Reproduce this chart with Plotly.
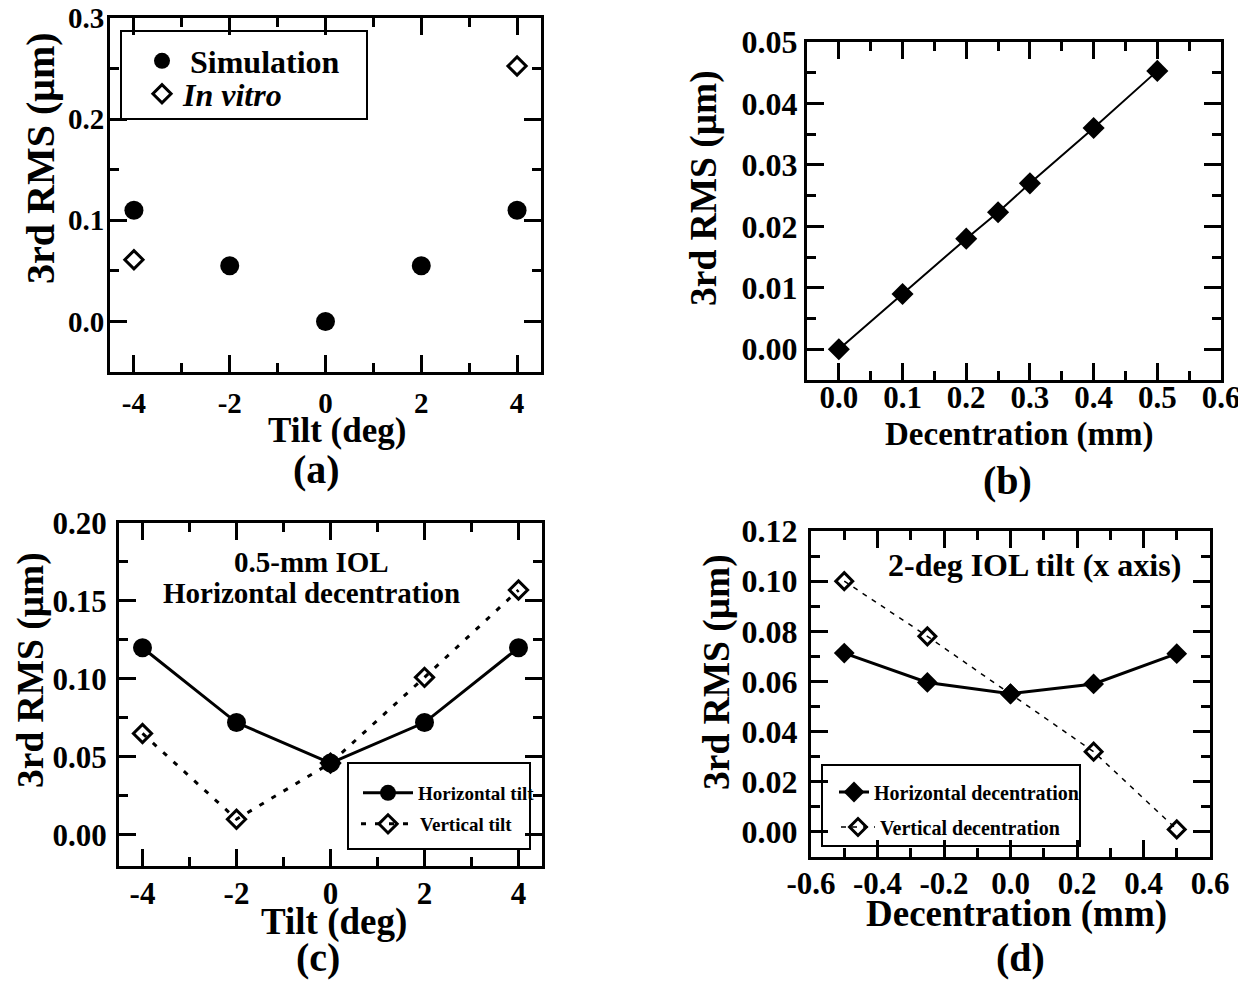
import plotly.graph_objects as go

# ---------------- data ----------------
# (a) 3rd-order RMS vs tilt
a_sim_tilt = [-4, -2, 0, 2, 4]
a_sim_rms = [0.110, 0.055, 0.000, 0.055, 0.110]
a_vitro_tilt = [-4, 4]
a_vitro_rms = [0.061, 0.2525]

# (b) 3rd-order RMS vs decentration
b_dec = [0.0, 0.1, 0.2, 0.25, 0.3, 0.4, 0.5]
b_rms = [0.0, 0.009, 0.018, 0.0223, 0.027, 0.036, 0.0453]

# (c) 0.5-mm IOL horizontal decentration, tilt sweep
c_tilt = [-4, -2, 0, 2, 4]
c_horiz = [0.120, 0.072, 0.046, 0.072, 0.120]
c_vert = [0.065, 0.010, 0.046, 0.101, 0.157]

# (d) 2-deg IOL tilt (x axis), decentration sweep
d_dec = [-0.5, -0.25, 0.0, 0.25, 0.5]
d_horiz = [0.0713, 0.0596, 0.0551, 0.0590, 0.0711]
d_vert = [0.100, 0.078, 0.055, 0.032, 0.001]

# tick values / labels
a_xticks = [-4, -2, 0, 2, 4]
a_xlabels = ["-4", "-2", "0", "2", "4"]
a_yticks = [0.0, 0.1, 0.2, 0.3]
a_ylabels = ["0.0", "0.1", "0.2", "0.3"]
b_xticks = [0.0, 0.1, 0.2, 0.3, 0.4, 0.5, 0.6]
b_xlabels = ["0.0", "0.1", "0.2", "0.3", "0.4", "0.5", "0.6"]
b_yticks = [0.0, 0.01, 0.02, 0.03, 0.04, 0.05]
b_ylabels = ["0.00", "0.01", "0.02", "0.03", "0.04", "0.05"]
c_xticks = [-4, -2, 0, 2, 4]
c_xlabels = ["-4", "-2", "0", "2", "4"]
c_yticks = [0.0, 0.05, 0.10, 0.15, 0.20]
c_ylabels = ["0.00", "0.05", "0.10", "0.15", "0.20"]
d_xticks = [-0.6, -0.4, -0.2, 0.0, 0.2, 0.4, 0.6]
d_xlabels = ["-0.6", "-0.4", "-0.2", "0.0", "0.2", "0.4", "0.6"]
d_yticks = [0.0, 0.02, 0.04, 0.06, 0.08, 0.10, 0.12]
d_ylabels = ["0.00", "0.02", "0.04", "0.06", "0.08", "0.10", "0.12"]

# ---------------- layout helpers ----------------
# page is 1246x981; the html body has an 8px margin, so the figure starts at (8, 8)
OFF = 8
FW, FH = 1246 - OFF, 981 - OFF
SERIF = "Liberation Serif"


def fx(p):
    return (p - OFF) / FW


def fy(p):
    return 1 - (p - OFF) / FH


def bold(size):
    return dict(family=SERIF, size=size, color="black", weight="bold")


def axis(dom, rng, tv, tt, minor_dtick, standoff, fsize, anchor):
    return dict(
        domain=dom, range=rng, anchor=anchor, automargin=False,
        tickmode="array", tickvals=tv, ticktext=tt,
        showline=True, linecolor="black", linewidth=3, mirror="ticks",
        ticks="inside", ticklen=17, tickwidth=3, tickcolor="black",
        minor=dict(dtick=minor_dtick, tick0=0, ticks="inside", ticklen=9,
                   tickwidth=3, tickcolor="black", showgrid=False),
        showgrid=False, zeroline=False, ticklabeloverflow="allow",
        tickfont=bold(fsize), ticklabelstandoff=standoff,
    )


# panel boxes in page pixels (left, right, top, bottom)
boxes = {
    "a": (110, 541, 18, 372),
    "b": (807, 1221, 42, 380),
    "c": (119, 542, 523, 866),
    "d": (811, 1210, 531, 857),
}


def xdom(k):
    l, r, t, b = boxes[k]
    return [fx(l), fx(r)]


def ydom(k):
    l, r, t, b = boxes[k]
    return [fy(b), fy(t)]


fig = go.Figure()

# (a)
fig.add_trace(go.Scatter(x=a_sim_tilt, y=a_sim_rms, mode="markers", name="Simulation",
                         marker=dict(symbol="circle", size=19, color="black"),
                         xaxis="x", yaxis="y", legend="legend"))
fig.add_trace(go.Scatter(x=a_vitro_tilt, y=a_vitro_rms, mode="markers", name="<i>In vitro</i>",
                         marker=dict(symbol="diamond-open", size=14, color="black",
                                     line=dict(width=3, color="black")),
                         xaxis="x", yaxis="y", legend="legend2"))
# (b)
fig.add_trace(go.Scatter(x=b_dec, y=b_rms, mode="lines+markers", showlegend=False,
                         line=dict(color="black", width=2),
                         marker=dict(symbol="diamond", size=17, color="black"),
                         xaxis="x2", yaxis="y2"))
# (c)
fig.add_trace(go.Scatter(x=c_tilt, y=c_horiz, mode="lines+markers", name="Horizontal tilt",
                         line=dict(color="black", width=3),
                         marker=dict(symbol="circle", size=19, color="black"),
                         xaxis="x3", yaxis="y3", legend="legend3"))
fig.add_trace(go.Scatter(x=c_tilt, y=c_vert, mode="lines+markers", name="Vertical tilt",
                         line=dict(color="black", width=3, dash="5px,9px"),
                         marker=dict(symbol="diamond-open", size=14, color="black",
                                     line=dict(width=3, color="black")),
                         xaxis="x3", yaxis="y3", legend="legend4"))
# (d)
fig.add_trace(go.Scatter(x=d_dec, y=d_horiz, mode="lines+markers", name="Horizontal decentration",
                         line=dict(color="black", width=3),
                         marker=dict(symbol="diamond", size=16, color="black"),
                         xaxis="x4", yaxis="y4", legend="legend5"))
fig.add_trace(go.Scatter(x=d_dec, y=d_vert, mode="lines+markers", name="Vertical decentration",
                         line=dict(color="black", width=1.5, dash="5px,6px"),
                         marker=dict(symbol="diamond-open", size=13, color="black",
                                     line=dict(width=3, color="black")),
                         xaxis="x4", yaxis="y4", legend="legend6"))


def leg(x, y, size, itemwidth):
    # x: left edge of legend (page px), y: entry centre (page px)
    return dict(x=fx(x), y=fy(y), xanchor="left", yanchor="middle",
                bgcolor="rgba(0,0,0,0)", font=bold(size), borderwidth=0,
                itemwidth=itemwidth)


layout = dict(
    width=FW, height=FH, margin=dict(l=0, r=0, t=0, b=0, autoexpand=False),
    paper_bgcolor="white", plot_bgcolor="white",
    xaxis=axis(xdom("a"), [-4.5, 4.5], a_xticks, a_xlabels, 1, 3, 29, "y"),
    yaxis=axis(ydom("a"), [-0.05, 0.3], a_yticks, a_ylabels, 0.05, -3, 29, "x"),
    xaxis2=axis(xdom("b"), [-0.05, 0.6], b_xticks, b_xlabels, 0.05, -12, 31, "y2"),
    yaxis2=axis(ydom("b"), [-0.005, 0.05], b_yticks, b_ylabels, 0.005, 0, 32, "x2"),
    xaxis3=axis(xdom("c"), [-4.5, 4.5], c_xticks, c_xlabels, 1, -2, 31, "y3"),
    yaxis3=axis(ydom("c"), [-0.02, 0.2], c_yticks, c_ylabels, 0.025, 3, 31, "x3"),
    xaxis4=axis(xdom("d"), [-0.6, 0.6], d_xticks, d_xlabels, 0.1, -3, 31, "y4"),
    yaxis4=axis(ydom("d"), [-0.01, 0.12], d_yticks, d_ylabels, 0.01, 4, 32, "x4"),
    legend=leg(134, 61, 32, 46),
    legend2=leg(141, 94, 32, 32),
    legend3=leg(358, 793, 19, 50),
    legend4=leg(356, 824, 19, 54),
    legend5=leg(834, 792, 20, 30),
    legend6=leg(836, 827, 20, 34),
)
fig.update_layout(**layout)

# legend frames (page px: left, right, top, bottom)
frames = [(121, 367, 31, 119), (348, 530, 763, 849), (822, 1080, 765, 846)]
for l, r, t, b in frames:
    fig.add_shape(type="rect", xref="paper", yref="paper",
                  x0=fx(l), x1=fx(r), y0=fy(b), y1=fy(t),
                  line=dict(color="black", width=2), fillcolor="rgba(0,0,0,0)")


def ann(text, x, y, size, angle=0):
    fig.add_annotation(text=text, xref="paper", yref="paper", x=fx(x), y=fy(y),
                       xanchor="center", yanchor="middle", showarrow=False,
                       textangle=angle, font=bold(size))


# axis titles and panel letters
ann("3rd RMS (\u03bcm)", 40, 158, 40, -90)
ann("Tilt (deg)", 337, 431, 35)
ann("(a)", 316, 470, 40)

ann("3rd RMS (\u03bcm)", 704, 188, 37.5, -90)
ann("Decentration (mm)", 1019, 434, 33)
ann("(b)", 1008, 480, 40)

ann("3rd RMS (\u03bcm)", 31, 670, 37.5, -90)
ann("Tilt (deg)", 334, 922, 37)
ann("(c)", 318, 957, 40)

ann("3rd RMS (\u03bcm)", 717, 672, 37.5, -90)
ann("Decentration (mm)", 1016, 914, 37)
ann("(d)", 1020, 957, 40)

# in-plot captions
ann("0.5-mm IOL", 311, 562, 29)
ann("Horizontal decentration", 311, 593, 29)
ann("2-deg IOL tilt (x axis)", 1034, 565, 32)

fig.write_html("out.html")
